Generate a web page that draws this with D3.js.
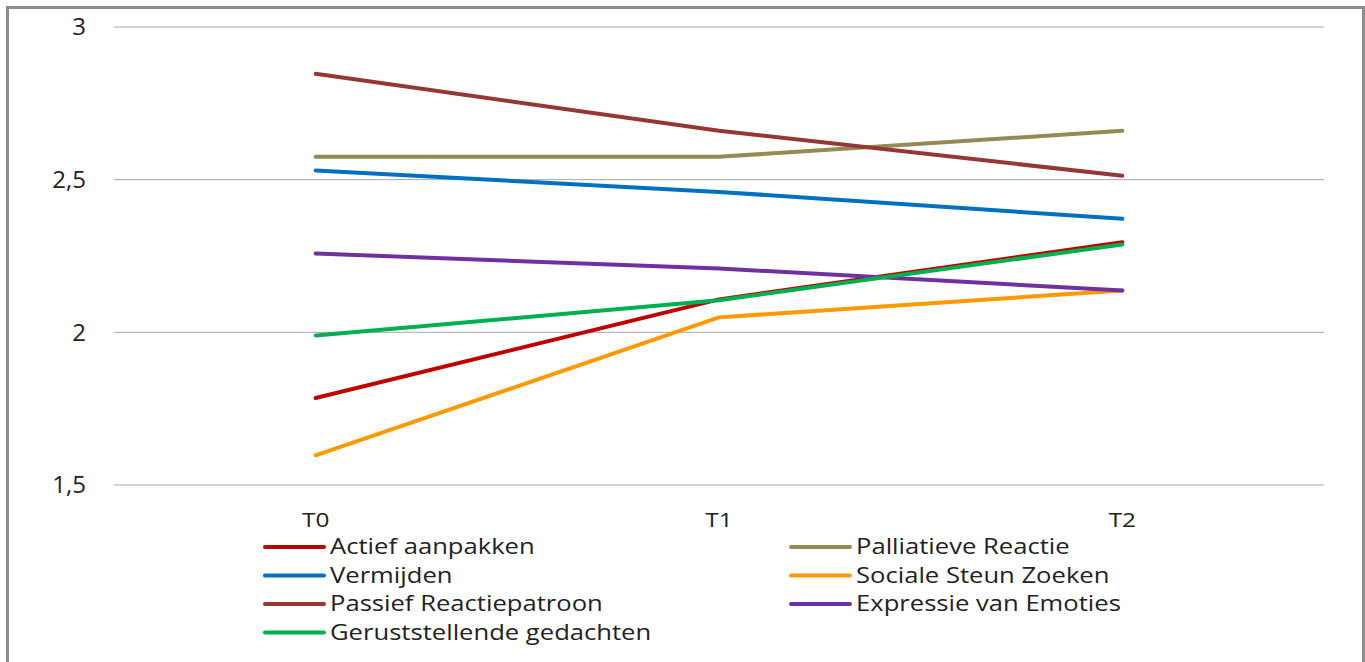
<!DOCTYPE html>
<html>
<head>
<meta charset="utf-8">
<script src="https://cdn.jsdelivr.net/npm/d3@7"></script>
<style>
  body { margin: 0; background: #fff; }
  svg text { font-family: "Open Sans", "Noto Sans", sans-serif; fill: #222; }
</style>
</head>
<body>
<div id="chart"></div>
<script>
const periods = ["T0", "T1", "T2"];
const seriesNames = [
  "Actief aanpakken",
  "Palliatieve Reactie",
  "Vermijden",
  "Sociale Steun Zoeken",
  "Passief Reactiepatroon",
  "Expressie van Emoties",
  "Geruststellende gedachten"
];
const seriesColors = ["#C00000", "#948A54", "#0070C0", "#FF9900", "#953735", "#7030A0", "#00B050"];
const actief = [1.785, 2.108, 2.295];
const palliatief = [2.575, 2.575, 2.66];
const vermijden = [2.53, 2.46, 2.372];
const sociaal = [1.597, 2.049, 2.137];
const passief = [2.847, 2.66, 2.513];
const expressie = [2.258, 2.209, 2.137];
const gerust = [1.99, 2.105, 2.288];
const yTicks = [1.5, 2, 2.5, 3];

const allValues = [actief, palliatief, vermijden, sociaal, passief, expressie, gerust];
const series = seriesNames.map((name, i) => ({ name, color: seriesColors[i], values: allValues[i] }));

const width = 1365, height = 662;
const stretch = 1.22; // text in the original is a bit wider than Open Sans
const svg = d3.select("#chart").append("svg")
  .attr("width", width).attr("height", height);

// outer frame (bottom edge is cut off in the original)
svg.append("rect")
  .attr("x", 7.5).attr("y", 7.5)
  .attr("width", 1356).attr("height", 700)
  .attr("fill", "none").attr("stroke", "#8c8c8c").attr("stroke-width", 3);

const x = d3.scalePoint().domain(periods).range([114, 1324]).padding(0.5);
const y = d3.scaleLinear().domain([1.5, 3]).range([485, 27]);

// gridlines
svg.append("g").selectAll("line")
  .data(yTicks).enter().append("line")
  .attr("x1", 114).attr("x2", 1324)
  .attr("y1", d => y(d)).attr("y2", d => y(d))
  .attr("stroke", "#a6a6a6").attr("stroke-width", 1);

// y labels
svg.append("g").selectAll("text")
  .data(yTicks).enter().append("text")
  .attr("x", 86).attr("y", d => y(d))
  .attr("dy", "0.35em")
  .attr("text-anchor", "end")
  .attr("font-size", "24px")
  .text(d => d3.format(".1~f")(d).replace(".", ","));

// x labels
svg.append("g").selectAll("text")
  .data(periods).enter().append("text")
  .attr("transform", d => `translate(${x(d)},520) scale(${stretch},1)`)
  .attr("dy", "0.35em")
  .attr("text-anchor", "middle")
  .attr("font-size", "20px")
  .text(d => d);

const line = d3.line()
  .x((d, i) => x(periods[i]))
  .y(d => y(d));

svg.append("g").selectAll("path")
  .data(series).enter().append("path")
  .attr("d", d => line(d.values))
  .attr("fill", "none")
  .attr("stroke", d => d.color)
  .attr("stroke-width", 4)
  .attr("stroke-linecap", "round")
  .attr("stroke-linejoin", "round");

// legend, two columns, row-major
const legend = svg.append("g");
const item = legend.selectAll("g")
  .data(series).enter().append("g")
  .attr("transform", (d, i) => `translate(${i % 2 === 0 ? 265 : 791},${547 + Math.floor(i / 2) * 28.5})`);
item.append("line")
  .attr("x1", 0).attr("x2", 59)
  .attr("stroke", d => d.color).attr("stroke-width", 4)
  .attr("stroke-linecap", "round");
item.append("text")
  .attr("transform", `translate(65,0) scale(${stretch},1)`)
  .attr("dy", "0.35em")
  .attr("font-size", "21px")
  .text(d => d.name);
</script>
</body>
</html>
